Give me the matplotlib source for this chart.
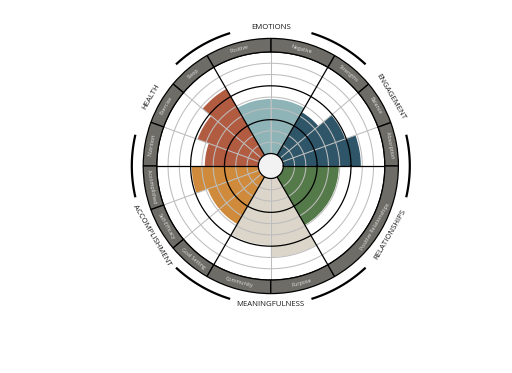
import numpy as np
import matplotlib.pyplot as plt

# dimensions in counter-clockwise order, starting at 3 o'clock
dimensions = ['ENGAGEMENT', 'EMOTIONS', 'HEALTH', 'ACCOMPLISHMENT', 'MEANINGFULNESS', 'RELATIONSHIPS']
dim_colors = ['#2e5568', '#8fb4b8', '#b15b41', '#cf8b3b', '#dbd5ca', '#557a4a']

subcategories = [
    ['Absorption', 'Balance', 'Strengths'],
    ['Negative', 'Positive'],
    ['Sleep', 'Exercise', 'Nutrition'],
    ['Accomplished', 'Self-Efficacy', 'Goal Setting'],
    ['Community', 'Purpose'],
    ['Positive Relationships'],
]
scores = [
    [6.87, 5.9, 4.39],
    [4.83, 4.83],
    [6.78, 5.8, 4.74],
    [5.9, 4.83, 4.83],
    [5.9, 6.96],
    [4.92],
]

max_score = 9
hole = 1.108  # radius of the centre hole, in score units
ring_col = '#6d6c66'
grid_col = '#bdbdbd'

plt.rcParams['font.family'] = ['Open Sans', 'DejaVu Sans']

fig = plt.figure(figsize=(5.12, 3.73), dpi=100)
R = 147.9
cx, cy = 270.8, 166
ax = fig.add_axes([(cx - R) / 512, (373 - cy - R) / 373, 2 * R / 512, 2 * R / 373],
                  projection='polar')
ax.set_ylim(-hole, 12)
ax.set_axis_off()

full = np.linspace(0, 2 * np.pi, 500)
n_dim = len(dimensions)
span = 2 * np.pi / n_dim

for i, (subs, vals, col) in enumerate(zip(subcategories, scores, dim_colors)):
    start = i * span
    w = span / len(subs)
    for j, (name, v) in enumerate(zip(subs, vals)):
        th = start + (j + 0.5) * w
        ax.bar(th, v, width=w, bottom=0, color=col, edgecolor='none', zorder=1)
        # outer ring
        ax.bar(th, 1.2, width=w, bottom=max_score, color=ring_col,
               edgecolor='black', linewidth=0.9, zorder=4)
        deg = np.degrees(th)
        rot = deg - 90 if deg <= 180 else deg + 90
        ax.text(th, max_score + 0.6, name, rotation=rot, rotation_mode='anchor',
                ha='center', va='center', fontsize=3.8, color='#e4e4e4', zorder=6)
        if j > 0:
            ax.plot([start + j * w] * 2, [0, max_score], color=grid_col, lw=0.75, zorder=2)
    # dimension label and arcs
    mid = start + span / 2
    deg = np.degrees(mid)
    rot = deg - 90 if deg <= 180 else deg + 90
    ax.text(mid, 11.13, dimensions[i], rotation=rot, rotation_mode='anchor',
            ha='center', va='center', fontsize=5.6, color='#1a1a1a')
    arc = np.linspace(start - np.radians(13), start + np.radians(13), 60)
    ax.plot(arc, np.full_like(arc, 11.21), color='black', lw=1.6, solid_capstyle='butt')
    ax.plot([start, start], [0, max_score], color='black', lw=0.9, zorder=3)

for lev in range(1, max_score + 1):
    if lev % 3 == 0:
        ax.plot(full, np.full_like(full, lev), color='black', lw=0.9, zorder=3)
    else:
        ax.plot(full, np.full_like(full, lev), color=grid_col, lw=0.75, zorder=2)

# centre hole
ax.bar(0, hole, width=2 * np.pi, bottom=-hole, color='#f2f2f2', edgecolor='none', zorder=5)
ax.plot(full, np.zeros_like(full), color='black', lw=0.9, zorder=5)

fig.savefig('out.png', dpi=100)
